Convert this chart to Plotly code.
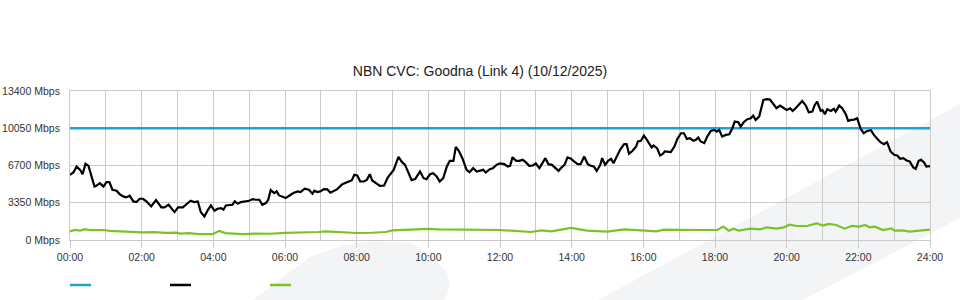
import plotly.graph_objects as go

# ---------------- data ----------------
title_text = "NBN CVC: Goodna (Link 4) (10/12/2025)"

y_tick_values = [0, 3350, 6700, 10050, 13400]
y_tick_labels = ["0 Mbps", "3350 Mbps", "6700 Mbps", "10050 Mbps", "13400 Mbps"]
x_tick_hours = [0, 2, 4, 6, 8, 10, 12, 14, 16, 18, 20, 22, 24]
x_tick_labels = ["00:00", "02:00", "04:00", "06:00", "08:00", "10:00", "12:00",
                 "14:00", "16:00", "18:00", "20:00", "22:00", "24:00"]

# capacity (blue)
capacity_minute = [0, 1440]
capacity_mbps = [10050, 10050]

# traffic (black) - minute of day, Mbps
traffic_minute = [
    0, 6, 11, 17, 21, 26, 31, 41, 44, 50, 56, 61, 66, 71, 78, 83, 89, 94, 100, 106,
    111, 117, 122, 128, 136, 144, 153, 158, 165, 175, 181, 189, 194, 202, 208, 214, 219, 225, 231, 236,
    242, 247, 253, 257, 261, 267, 272, 276, 281, 286, 294, 300, 306, 311, 317, 322, 328, 332, 336, 342,
    346, 350, 356, 361, 367, 374, 381, 386, 393, 400, 406, 409, 414, 419, 425, 431, 436, 442, 447, 456,
    464, 472, 476, 481, 486, 492, 497, 502, 506, 514, 519, 526, 532, 542, 550, 556, 561, 567, 572, 578,
    586, 592, 597, 603, 608, 614, 619, 625, 631, 636, 642, 646, 651, 657, 664, 669, 675, 681, 686, 692,
    696, 703, 708, 714, 720,
    727, 733, 737, 741, 747, 752, 758, 763, 769, 775, 780, 786, 791, 796, 801, 807, 813, 818, 823, 828,
    833, 839, 844, 850, 855, 861, 867, 872, 877, 882, 888, 891, 896, 901, 906, 910, 917, 922, 928, 932,
    936, 942, 948, 951, 956, 961, 966, 970, 974, 977, 983, 988, 992, 996, 1000, 1006, 1012, 1017, 1023, 1028,
    1033, 1038, 1044, 1048, 1052, 1056, 1062, 1067, 1073, 1079, 1083, 1087, 1092, 1098, 1104, 1109, 1113, 1119, 1123, 1128,
    1134, 1140, 1144, 1148, 1154, 1157, 1161, 1167, 1172, 1178, 1183, 1189, 1195, 1200, 1206, 1210, 1215, 1221, 1226, 1232,
    1237, 1243, 1247, 1251, 1257, 1260, 1264, 1268, 1274, 1279, 1282, 1288, 1293, 1299, 1303, 1308, 1313, 1318, 1324, 1329,
    1335, 1341, 1346, 1352, 1357, 1363, 1368, 1374, 1380, 1385, 1390, 1395, 1401, 1406, 1412, 1416, 1421, 1425, 1430, 1434,
    1440,
]
traffic_mbps = [
    5860, 6100, 6610, 6310, 5920, 6850, 6670, 4810, 4870, 5110, 4810, 5200, 5200, 4520, 4430, 4130, 3920, 3830, 3980, 3470,
    3410, 3710, 3710, 3470, 3020, 3590, 2930, 2930, 3170, 2510, 2930, 2930, 3170, 3530, 3410, 3470, 2510, 2120, 2720, 3110,
    2630, 2810, 2870, 2720, 3110, 3110, 3170, 3470, 3260, 3410, 3470, 3530, 3680, 3620, 3620, 3170, 3320, 3620, 4490, 4220,
    4370, 4010, 3890, 3770, 3980, 4220, 4370, 4310, 4610, 4520, 4160, 4430, 4310, 4370, 4580, 4550, 4250, 4430, 4550, 5020,
    5200, 5380, 5860, 5800, 5260, 5260, 5410, 5920, 5350, 5020, 4870, 4900, 5620, 6310, 7480, 7000, 6760, 6010, 5380, 5470,
    6160, 5560, 5470, 5920, 6010, 5710, 5260, 5560, 6610, 7120, 7120, 8380, 8020, 7360, 6310, 6100, 6460, 6160, 6220, 6310,
    6070, 6370, 6460, 6760, 6880,
    6820, 6610, 6670, 7450, 7120, 7120, 7210, 7000, 6670, 6700, 6880, 6460, 6910, 7360, 6820, 6760, 6460, 6220, 6520, 6760,
    7420, 7300, 7060, 6820, 6820, 7510, 6820, 6670, 6610, 6220, 6760, 7360, 6760, 7120, 7300, 6910, 7660, 8200, 8620, 8620,
    7750, 8020, 8410, 8860, 8920, 9390, 9010, 8710, 8320, 8500, 8260, 7600, 7720, 7960, 7960, 7900, 8410, 9090, 9600, 9600,
    9090, 9150, 8920, 9010, 9210, 8860, 8710, 9300, 9810, 9900, 9750, 9900, 9300, 9450, 9510, 10050, 10650, 10590, 10200, 10590,
    10860, 10950, 11190, 10800, 11100, 11850, 12600, 12660, 12630, 12210, 11850, 12090, 11910, 11700, 11850, 11610, 11850, 12210, 12510, 12090,
    11490, 11550, 12150, 12450, 11610, 11700, 11310, 11760, 11610, 11790, 11550, 12090, 11850, 11310, 10710, 10800, 10830, 10950, 9990, 9600,
    9810, 9870, 9450, 9090, 8800, 8620, 8800, 7960, 7660, 7600, 7300, 7360, 7150, 7060, 6520, 6400, 7120, 7210, 6970, 6610,
    6640,
]

# second series (green) - minute of day, Mbps
green_minute = [
    0, 8, 17, 25, 34, 42, 56, 67, 94, 120, 140, 161, 178, 185, 200, 216, 239, 250, 260, 289,
    312, 336, 360, 390, 416, 428, 455, 480, 504, 528, 540, 564, 588, 600, 618, 636, 660, 690, 716, 739,
    772, 789, 806, 839, 866, 900, 928, 956, 982, 994, 1016, 1050, 1084, 1094, 1103, 1111, 1120, 1139, 1156, 1166,
    1183, 1195, 1205, 1217, 1234, 1250, 1261, 1270, 1283, 1297, 1309, 1322, 1331, 1339, 1348, 1361, 1375, 1381, 1394, 1406,
    1422, 1440,
]
green_mbps = [
    780, 900, 850, 980, 880, 900, 900, 820, 740, 680, 700, 640, 660, 580, 620, 530, 530, 820, 620, 530,
    580, 560, 640, 660, 720, 780, 700, 630, 650, 720, 860, 900, 950, 1000, 950, 950, 900, 900, 900, 840,
    720, 870, 780, 1080, 840, 750, 960, 870, 780, 930, 900, 900, 900, 1200, 840, 1020, 840, 1020, 960, 1140,
    1020, 1140, 1380, 1260, 1260, 1500, 1290, 1440, 1350, 1020, 1260, 1200, 1350, 1140, 1200, 900, 1050, 840, 870, 750,
    840, 930,
]

# ---------------- style ----------------
BLUE = "#1fa0dc"
BLACK = "#000000"
GREEN = "#7dc128"
GRID = "#cbcbcb"
DECOR = "#f3f4f6"
FONT = "Liberation Sans, Arial, sans-serif"

L, R, T, B = 70, 30, 91, 60
W, H = 960, 300
PW, PH = W - L - R, H - T - B


def to_paper(px, py):
    return (px - L) / PW, (H - B - py) / PH


def path_from(points):
    pts = [to_paper(px, py) for px, py in points]
    return "M " + " L ".join(f"{x:.4f},{y:.4f}" for x, y in pts) + " Z"


fig = go.Figure()

fig.add_trace(go.Scatter(
    x=[m / 60 for m in green_minute], y=green_mbps, mode="lines",
    line=dict(color=GREEN, width=2.2), showlegend=False, hoverinfo="skip"))
fig.add_trace(go.Scatter(
    x=[m / 60 for m in capacity_minute], y=capacity_mbps, mode="lines",
    line=dict(color=BLUE, width=2.5), showlegend=False, hoverinfo="skip"))
fig.add_trace(go.Scatter(
    x=[m / 60 for m in traffic_minute], y=traffic_mbps, mode="lines",
    line=dict(color=BLACK, width=2.2), showlegend=False, hoverinfo="skip"))

shapes = []
# background decorations
band = [(598, 300), (960, 104), (960, 218), (803, 300)]
blob = [(253, 300), (283, 277), (310, 257), (343, 245), (373, 241), (413, 243),
        (433, 257), (447, 273), (450, 285), (447, 295), (443, 300)]
for poly in (band, blob):
    shapes.append(dict(type="path", xref="paper", yref="paper", path=path_from(poly),
                       fillcolor=DECOR, line=dict(width=0), layer="below"))
# legend swatches (no labels in the reference)
for x0, col in ((70, BLUE), (170, BLACK), (270, GREEN)):
    a, b = to_paper(x0, 285)
    c, _ = to_paper(x0 + 21, 285)
    shapes.append(dict(type="line", xref="paper", yref="paper", x0=a, x1=c, y0=b, y1=b,
                       line=dict(color=col, width=2.5)))

fig.update_layout(
    width=W, height=H,
    margin=dict(l=L, r=R, t=T, b=B, pad=0, autoexpand=False),
    paper_bgcolor="white", plot_bgcolor="rgba(0,0,0,0)",
    font=dict(family=FONT, size=10.5, color="#333333"),
    title=dict(text=title_text, x=0.5, xanchor="center", xref="container",
               y=1 - 71 / H, yanchor="middle", yref="container",
               font=dict(family=FONT, size=14, color="#222222")),
    showlegend=False,
    shapes=shapes,
)

fig.update_xaxes(
    range=[0, 24], tickmode="array", tickvals=x_tick_hours, ticktext=x_tick_labels,
    showgrid=True, gridcolor=GRID, gridwidth=1, zeroline=False,
    showline=True, linecolor=GRID, linewidth=1, mirror=True,
    ticks="outside", ticklen=7, tickcolor=GRID, tickwidth=1,
    minor=dict(tickvals=[h for h in range(1, 24, 2)], showgrid=True, gridcolor=GRID,
               gridwidth=1, ticks=""),
    automargin=False, fixedrange=True,
)
fig.update_yaxes(
    range=[0, 13400], tickmode="array", tickvals=y_tick_values, ticktext=y_tick_labels,
    showgrid=True, gridcolor=GRID, gridwidth=1, zeroline=False,
    showline=True, linecolor=GRID, linewidth=1, mirror=True,
    ticks="", ticklabelstandoff=7,
    automargin=False, fixedrange=True,
)

fig.write_html("out.html", config={"displayModeBar": False})
